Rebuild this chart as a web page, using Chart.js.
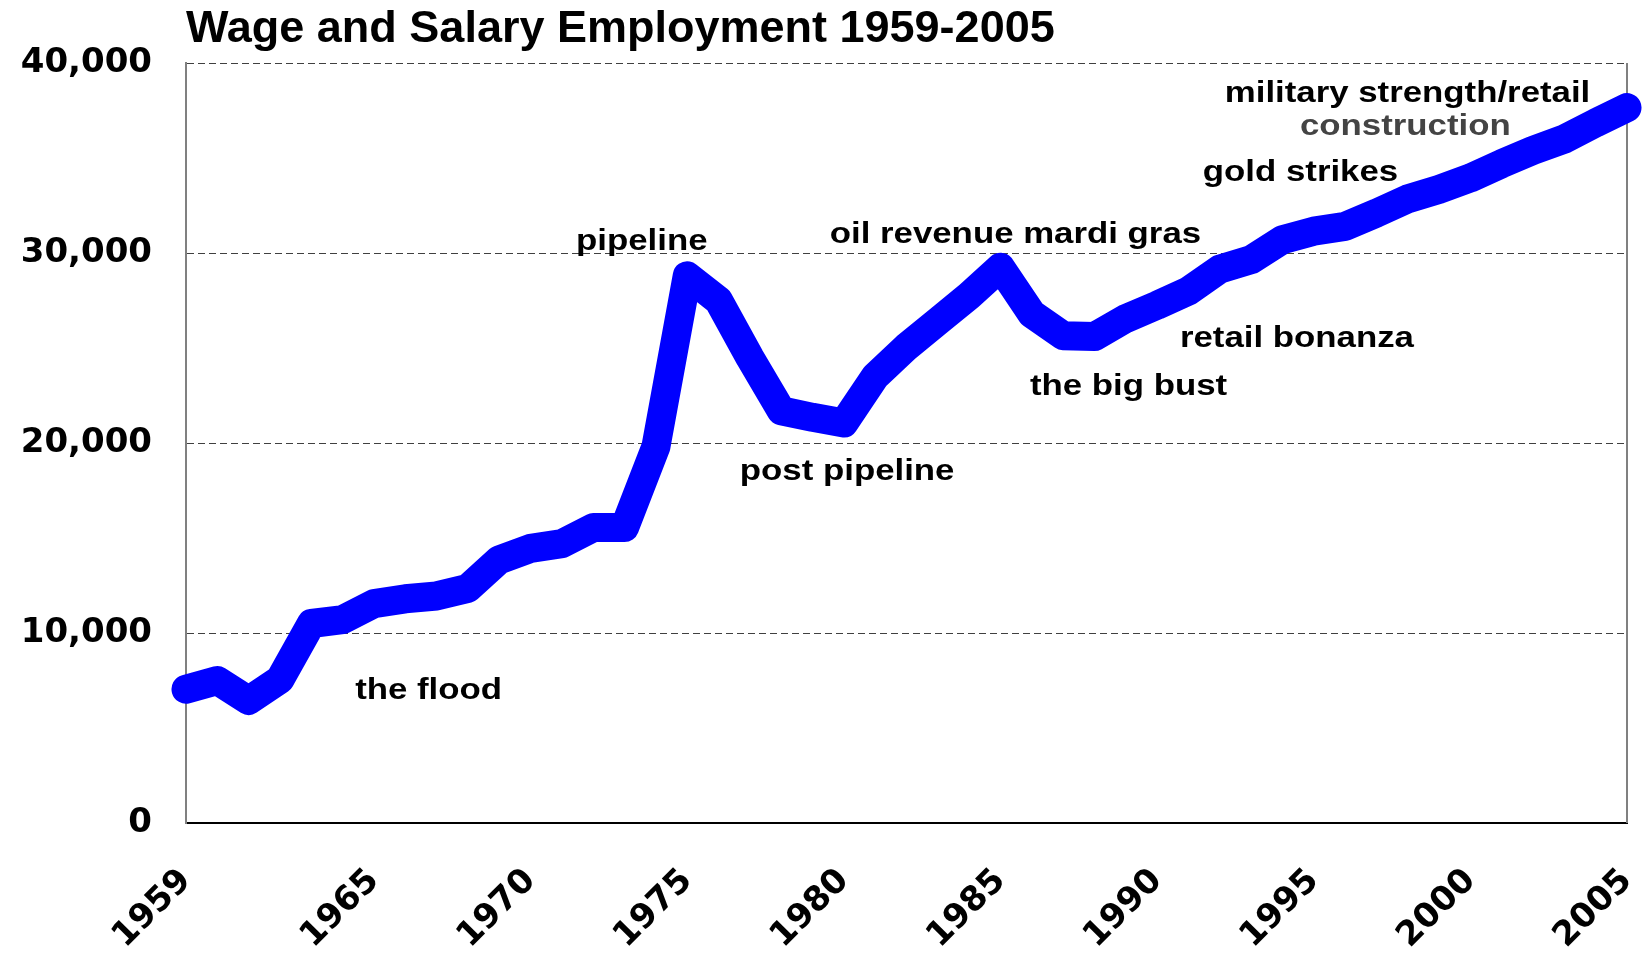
<!DOCTYPE html>
<html>
<head>
<meta charset="utf-8">
<title>Wage and Salary Employment 1959-2005</title>
<script src="https://cdn.jsdelivr.net/npm/chart.js@4.4.1/dist/chart.umd.min.js"></script>
<style>
  html, body { margin: 0; padding: 0; background: #fff; }
  #wrap { width: 1645px; height: 953px; }
</style>
</head>
<body>
<div id="wrap"><canvas id="employment" width="1645" height="953"></canvas></div>
<script>
const years = [
    1959, 1960, 1961, 1962, 1963, 1964, 1965, 1966, 1967, 1968,
    1969, 1970, 1971, 1972, 1973, 1974, 1975, 1976, 1977, 1978,
    1979, 1980, 1981, 1982, 1983, 1984, 1985, 1986, 1987, 1988,
    1989, 1990, 1991, 1992, 1993, 1994, 1995, 1996, 1997, 1998,
    1999, 2000, 2001, 2002, 2003, 2004, 2005
];
const employment = [
    7040, 7500, 6450, 7550, 10500, 10700, 11550, 11800, 11950, 12350,
    13850, 14450, 14700, 15550, 15550, 19800, 28800, 27500, 24500, 21700,
    21350, 21050, 23500, 25050, 26400, 27750, 29250, 26800, 25650, 25600,
    26550, 27250, 28000, 29150, 29650, 30700, 31150, 31400, 32100, 32850,
    33350, 33950, 34700, 35400, 36000, 36850, 37650
];
const xTickYears = [1959, 1965, 1970, 1975, 1980, 1985, 1990, 1995, 2000, 2005];
const yTickValues = [0, 10000, 20000, 30000, 40000];
const eventLabels = [
    'the flood', 'pipeline', 'post pipeline', 'oil revenue mardi gras',
    'the big bust', 'retail bonanza', 'gold strikes',
    'military strength/retail', 'construction'
];

// left edge + baseline of each event label, in chart units (year, jobs)
const labelAnchors = [
    [1964.4, 6530], [1971.45, 30160], [1976.68, 18050], [1979.55, 30510],
    [1985.94, 22530], [1990.73, 25070], [1991.46, 33800],
    [1992.16, 37960], [1994.56, 36210]
];
const labelColors = ['#000', '#000', '#000', '#000', '#000', '#000', '#000', '#000', '#444'];

// the original text is stretched sideways a little
const labelStretch = 1.2;

const eventLabelPlugin = {
    id: 'eventLabels',
    afterDatasetsDraw(chart) {
        const ctx = chart.ctx;
        const xs = chart.scales.x;
        const ys = chart.scales.y;
        ctx.save();
        ctx.font = 'bold 29px "Liberation Sans", Arial, sans-serif';
        ctx.textBaseline = 'alphabetic';
        ctx.textAlign = 'left';
        eventLabels.forEach((text, i) => {
            const px = xs.getPixelForValue(labelAnchors[i][0]);
            const py = ys.getPixelForValue(labelAnchors[i][1]);
            ctx.save();
            ctx.translate(px, py);
            ctx.scale(labelStretch, 1);
            ctx.fillStyle = labelColors[i];
            ctx.fillText(text, 0, 0);
            ctx.restore();
        });
        ctx.restore();
    }
};

// right edge of the plot frame
const frameRightPlugin = {
    id: 'frameRight',
    beforeDatasetsDraw(chart) {
        const { ctx, chartArea } = chart;
        ctx.save();
        ctx.strokeStyle = '#808080';
        ctx.lineWidth = 2;
        ctx.beginPath();
        ctx.moveTo(chartArea.right, chartArea.top);
        ctx.lineTo(chartArea.right, chartArea.bottom);
        ctx.stroke();
        ctx.restore();
    }
};

const points = years.map((yr, i) => ({ x: yr, y: employment[i] }));

new Chart(document.getElementById('employment'), {
    type: 'line',
    data: {
        datasets: [{
            label: 'Wage and Salary Employment',
            data: points,
            borderColor: '#0000ff',
            borderWidth: 29,
            borderJoinStyle: 'round',
            borderCapStyle: 'round',
            pointRadius: 0,
            pointHoverRadius: 0,
            tension: 0,
            clip: false
        }]
    },
    options: {
        responsive: false,
        animation: false,
        events: [],
        layout: { padding: { top: 0, right: 18, bottom: 0, left: 0 } },
        plugins: {
            legend: { display: false },
            tooltip: { enabled: false },
            title: {
                display: true,
                text: 'Wage and Salary Employment 1959-2005',
                align: 'start',
                fullSize: false,
                color: '#000',
                font: { family: '"Liberation Sans", Arial, sans-serif', size: 45, weight: 'bold', lineHeight: 1 },
                padding: { top: 7, bottom: 11 }
            }
        },
        scales: {
            x: {
                type: 'linear',
                min: 1959,
                max: 2005,
                afterBuildTicks: scale => {
                    scale.ticks = xTickYears.map(v => ({ value: v }));
                },
                afterFit: scale => {
                    scale.height = 130;
                    scale.paddingLeft = 0;
                    scale.paddingRight = 0;
                },
                grid: { display: false, drawTicks: false },
                border: { display: true, color: '#000', width: 2 },
                ticks: {
                    autoSkip: false,
                    minRotation: 45,
                    maxRotation: 45,
                    padding: 38,
                    color: '#000',
                    font: { family: '"DejaVu Sans", Verdana, sans-serif', size: 34, weight: 'bold' },
                    callback: v => String(v)
                }
            },
            y: {
                min: 0,
                max: 40000,
                afterBuildTicks: scale => {
                    scale.ticks = yTickValues.map(v => ({ value: v }));
                },
                afterFit: scale => {
                    scale.width = 186;
                    scale.paddingTop = 0;
                    scale.paddingBottom = 0;
                },
                grid: {
                    drawTicks: false,
                    lineWidth: 1,
                    color: c => (c.tick && c.tick.value === 0) ? 'rgba(0,0,0,0)' : '#404040'
                },
                border: { display: true, color: '#808080', width: 2, dash: [7, 4] },
                ticks: {
                    padding: 34,
                    color: '#000',
                    font: { family: '"DejaVu Sans", Verdana, sans-serif', size: 34, weight: 'bold' },
                    callback: v => v.toLocaleString('en-US')
                }
            }
        }
    },
    plugins: [frameRightPlugin, eventLabelPlugin]
});
</script>
</body>
</html>
